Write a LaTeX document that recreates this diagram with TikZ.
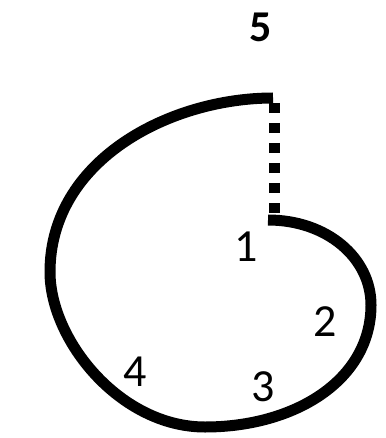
\documentclass[tikz,border=0pt]{standalone}
\usepackage{fontspec}
\setmainfont{Carlito}
\tikzset{
  shell/.style  ={draw=black, line width=5.5pt, line cap=butt},
  seam/.style   ={draw=black, line width=5.5pt, line cap=butt, dash pattern=on 5pt off 5pt},
  num/.style    ={font=\fontsize{23}{26}\selectfont, inner sep=0pt},
  numtop/.style ={font=\fontsize{22}{26}\selectfont\bfseries, inner sep=0pt},
}
\begin{document}
\begin{tikzpicture}[x=0.5pt, y=-0.5pt]
  \useasboundingbox (0,0) rectangle (385,438);
  % ends of the spiral and of the dotted seam
  \coordinate (core)    at (268,220);
  \coordinate (tip)     at (273,98);
  \coordinate (seamtop) at (274,103);
  \coordinate (seambot) at (274,213);
  % spiral
  \draw[shell] (core) .. controls (327,220) and (371,258) .. (371,305)
                      .. controls (371,380) and (295,427) .. (205,427)
                      .. controls (120,427) and (50,340) .. (50,272)
                      .. controls (50,160) and (170,98) .. (tip);
  \draw[seam] (seamtop) -- (seambot);
  % labels
  \node[numtop] (n5) at (261,27)  {5};
  \node[num]    (n1) at (246,247) {1};
  \node[num]    (n2) at (325,322) {2};
  \node[num]    (n3) at (263,387) {3};
  \node[num]    (n4) at (135,372) {4};
\end{tikzpicture}
\end{document}
